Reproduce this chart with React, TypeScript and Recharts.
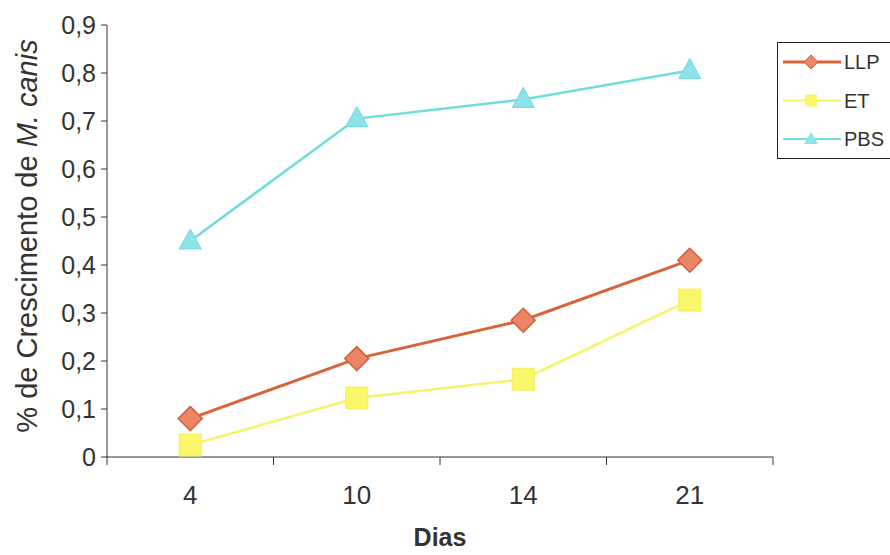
import React from 'react';
import { LineChart, Line, XAxis, YAxis, Label } from 'recharts';

const days = ['4', '10', '14', '21'];
const llp = [0.08, 0.205, 0.285, 0.41];
const et = [0.025, 0.123, 0.162, 0.327];
const pbs = [0.45, 0.705, 0.745, 0.805];
const yTicks = [0, 0.1, 0.2, 0.3, 0.4, 0.5, 0.6, 0.7, 0.8, 0.9];

const data = days.map((d, i) => ({ day: d, pos: i + 0.5, LLP: llp[i], ET: et[i], PBS: pbs[i] }));
const xTicks: number[] = [];
for (let i = 0; i <= days.length * 2; i++) xTicks.push(i / 2);

const FONT = '"Liberation Sans", Arial, sans-serif';
const TXT = '#333';

const COLORS = {
  LLP: { line: '#D9643C', fill: '#EC8466', edge: '#D0603F' },
  ET: { line: '#F6F46A', fill: '#FAF86A', edge: '#F0EE60' },
  PBS: { line: '#6FDCE0', fill: '#8CE4EA', edge: '#70D8DE' },
};

const Diamond = (p: any) => {
  const { cx, cy } = p;
  if (cx == null || cy == null) return null;
  const r = 12;
  return <path d={`M${cx},${cy - r}L${cx + r},${cy}L${cx},${cy + r}L${cx - r},${cy}Z`} fill={COLORS.LLP.fill} stroke={COLORS.LLP.edge} strokeWidth={1.5} />;
};
const Square = (p: any) => {
  const { cx, cy } = p;
  if (cx == null || cy == null) return null;
  const s = 11;
  return <rect x={cx - s} y={cy - s} width={2 * s} height={2 * s} fill={COLORS.ET.fill} stroke={COLORS.ET.edge} strokeWidth={1} />;
};
const Tri = (p: any) => {
  const { cx, cy } = p;
  if (cx == null || cy == null) return null;
  return <path d={`M${cx},${cy - 12}L${cx + 11},${cy + 8}L${cx - 11},${cy + 8}Z`} fill={COLORS.PBS.fill} stroke={COLORS.PBS.edge} strokeWidth={1} />;
};

const XTick = (props: any) => {
  const { x, y, payload } = props;
  const v = payload.value;
  if (Number.isInteger(v)) {
    return <line x1={x} x2={x} y1={y} y2={y + 8} stroke="#333" strokeWidth={1} />;
  }
  const idx = Math.floor(v);
  return (
    <text x={x} y={y + 47} textAnchor="middle" fontFamily={FONT} fontSize={26} fill={TXT}>
      {days[idx]}
    </text>
  );
};

const legendItems = [
  { key: 'LLP', shape: 'diamond' },
  { key: 'ET', shape: 'square' },
  { key: 'PBS', shape: 'tri' },
];

const LegendBox = () => (
  <svg width={120} height={118} style={{ display: 'block' }}>
    <rect x={0.5} y={0.5} width={130} height={116} fill="#fff" stroke="#222" strokeWidth={1} />
    {legendItems.map((it, i) => {
      const cy = 20 + i * 38.5;
      const c = (COLORS as any)[it.key];
      const mx = 34;
      return (
        <g key={it.key}>
          <line x1={6} x2={64} y1={cy} y2={cy} stroke={c.line} strokeWidth={it.key === 'LLP' ? 3 : 2} />
          {it.shape === 'diamond' && <path d={`M${mx},${cy - 7}L${mx + 7},${cy}L${mx},${cy + 7}L${mx - 7},${cy}Z`} fill={c.fill} stroke={c.edge} />}
          {it.shape === 'square' && <rect x={mx - 6} y={cy - 6} width={12} height={12} fill={c.fill} />}
          {it.shape === 'tri' && <path d={`M${mx},${cy - 7}L${mx + 7},${cy + 5}L${mx - 7},${cy + 5}Z`} fill={c.fill} />}
          <text x={67} y={cy + 7} fontFamily={FONT} fontSize={20} fill={TXT}>{it.key}</text>
        </g>
      );
    })}
  </svg>
);

const YLabel = (props: any) => {
  const { viewBox } = props;
  const cx = 27;
  const cy = viewBox.y + viewBox.height / 2 - 5;
  return (
    <text x={cx} y={cy} transform={`rotate(-90, ${cx}, ${cy})`} textAnchor="middle" dominantBaseline="central" fontFamily={FONT} fontSize={29} fill={TXT}>
      % de Crescimento de <tspan fontStyle="italic">M. canis</tspan>
    </text>
  );
};

export default function App() {
  return (
    <div style={{ position: 'absolute', left: 0, top: 0, width: 890, height: 555, overflow: 'hidden', background: '#fff' }}>
      <LineChart width={890} height={555} data={data} margin={{ top: 25, right: 117, bottom: 0, left: 0 }}>
        <XAxis
          dataKey="pos"
          type="number"
          domain={[0, days.length]}
          ticks={xTicks}
          interval={0}
          tick={<XTick />}
          tickLine={false}
          tickSize={0}
          tickMargin={0}
          height={98}
          axisLine={{ stroke: '#333', strokeWidth: 1 }}
        >
          <Label value="Dias" position="insideBottom" offset={9} style={{ fontFamily: FONT, fontSize: 25, fontWeight: 'bold', fill: TXT }} />
        </XAxis>
        <YAxis
          type="number"
          domain={[0, 0.9]}
          ticks={yTicks}
          interval={0}
          width={107}
          tickSize={6}
          tickMargin={5}
          tickFormatter={(v: number) => (v === 0 ? '0' : v.toFixed(1).replace('.', ','))}
          tick={{ fontFamily: FONT, fontSize: 25, fill: TXT }}
          tickLine={{ stroke: '#333' }}
          axisLine={{ stroke: '#333', strokeWidth: 1 }}
          label={<YLabel />}
        />
        <Line dataKey="PBS" stroke={COLORS.PBS.line} strokeWidth={2.5} dot={<Tri />} activeDot={false} isAnimationActive={false} />
        <Line dataKey="ET" stroke={COLORS.ET.line} strokeWidth={2.5} dot={<Square />} activeDot={false} isAnimationActive={false} />
        <Line dataKey="LLP" stroke={COLORS.LLP.line} strokeWidth={3} dot={<Diamond />} activeDot={false} isAnimationActive={false} />
      </LineChart>
      <div style={{ position: 'absolute', left: 777, top: 42 }}>
        <LegendBox />
      </div>
    </div>
  );
}
